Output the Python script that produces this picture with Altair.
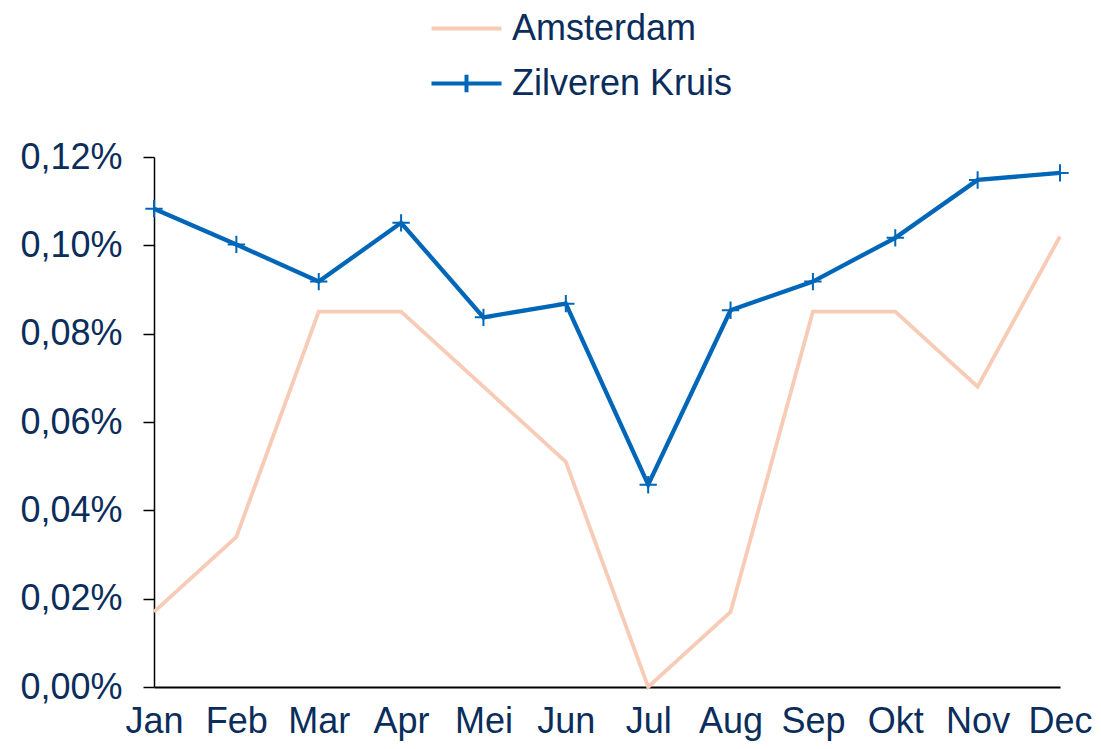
import altair as alt
import pandas as pd

months = ["Jan", "Feb", "Mar", "Apr", "Mei", "Jun", "Jul", "Aug", "Sep", "Okt", "Nov", "Dec"]
amsterdam = [0.017, 0.034, 0.085, 0.085, 0.068, 0.051, 0.0, 0.017, 0.085, 0.085, 0.068, 0.102]
zilveren = [0.1083, 0.1002, 0.0918, 0.1051, 0.0837, 0.0868, 0.0458, 0.0853, 0.0918, 0.1017, 0.1148, 0.1164]
series = ["Amsterdam", "Zilveren Kruis"]
colors = ["#f8cbb6", "#0066b8"]
y_ticks = [0, 0.02, 0.04, 0.06, 0.08, 0.10, 0.12]

rows = []
for i, m in enumerate(months):
    rows.append({"maand": m, "serie": series[0], "waarde": amsterdam[i] / 100})
    rows.append({"maand": m, "serie": series[1], "waarde": zilveren[i] / 100})
df = pd.DataFrame(rows)

FONT = "Liberation Sans"
TXT = "#0b2d5b"

x = alt.X("maand:N", sort=months, title=None,
          scale=alt.Scale(type="point", padding=0),
          axis=alt.Axis(labelAngle=0, ticks=False, tickSize=0, labelPadding=17,
                        labelFontSize=36, labelFont=FONT, labelColor=TXT,
                        domainColor="black", domainWidth=2, grid=False))
y = alt.Y("waarde:Q", title=None,
          scale=alt.Scale(domain=[0, 0.0012], nice=False),
          axis=alt.Axis(values=[v / 100 for v in y_ticks],
                        labelExpr="replace(format(datum.value, '.2%'), '.', ',')",
                        tickSize=11, tickColor="black", tickWidth=1.5,
                        domainColor="black", domainWidth=1.5, labelPadding=21,
                        labelFontSize=36, labelFont=FONT, labelColor=TXT, grid=False))

cscale = alt.Scale(domain=series, range=colors)
shscale = alt.Scale(domain=series, range=["M-2,0H2", "M-2,0H2M0,-0.5V0.5"])
color = alt.Color("serie:N", scale=cscale,
                  legend=alt.Legend(title=None, orient="none", legendX=293, legendY=-148,
                                    direction="vertical", symbolSize=1225,
                                    symbolStrokeWidth=4, symbolOpacity=1, labelOffset=26,
                                    labelFontSize=36, labelFont=FONT, labelColor=TXT,
                                    labelLimit=500, rowPadding=17, padding=0))
shape = alt.Shape("serie:N", scale=shscale)

line_a = alt.Chart(df).transform_filter(alt.datum.serie == "Amsterdam").mark_line(
    strokeWidth=3.8).encode(x=x, y=y, color=color)
line_z = alt.Chart(df).transform_filter(alt.datum.serie == "Zilveren Kruis").mark_line(
    strokeWidth=4.3).encode(x=x, y=y, color=color)

points = alt.Chart(df).transform_filter(
    alt.datum.serie == "Zilveren Kruis"
).mark_point(shape="M-1,0H1M0,-1V1", size=300, filled=False, strokeWidth=2, opacity=1).encode(
    x=x, y=y, color=color
)

legend_layer = alt.Chart(df).mark_point(filled=False, strokeWidth=4, opacity=0).encode(
    x=x, y=y, color=color, shape=shape,
)

chart = alt.layer(line_a, line_z, points, legend_layer).properties(
    width=906, height=530,
    autosize=alt.AutoSizeParams(type="none"),
    padding={"left": 146, "top": 149, "right": 33, "bottom": 54},
).configure_view(stroke=None)

chart.save("out.html", embed_options={"renderer": "svg", "actions": False})
